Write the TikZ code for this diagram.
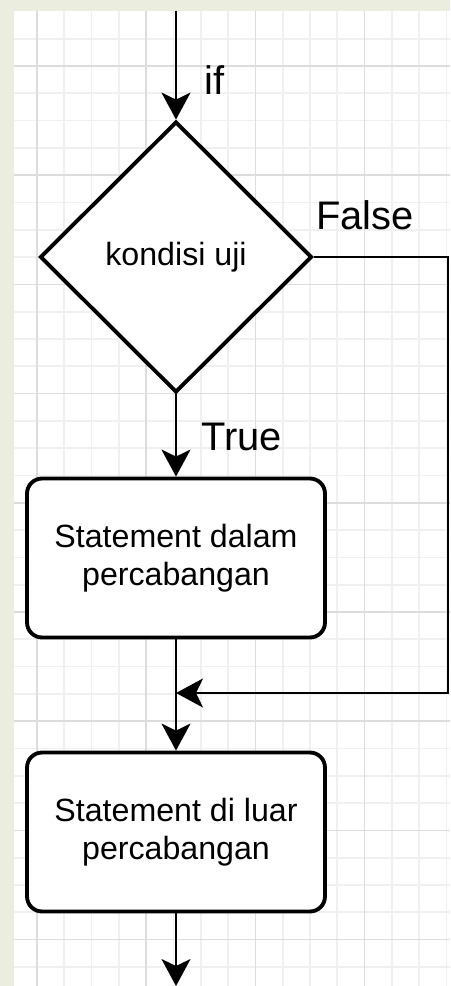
\documentclass[tikz,border=0pt]{standalone}
\usepackage{fontspec}
\setmainfont{Liberation Sans}
\usetikzlibrary{shapes.geometric}
\usetikzlibrary{arrows.meta}

\definecolor{paperbg}{RGB}{235,238,222}
\definecolor{gridminor}{RGB}{240,240,240}
\definecolor{gridmajor}{RGB}{221,221,221}

\begin{document}
\begin{tikzpicture}[x=0.02cm, y=-0.02cm,
  decision/.style={diamond, draw, line width=2.2pt, fill=white, inner sep=0pt,
    minimum width=5.44cm, minimum height=5.42cm, font=\fontsize{18.3}{21.5}\selectfont},
  block/.style={rectangle, draw, line width=2.2pt, rounded corners=0.3cm, fill=white,
    minimum width=5.96cm, minimum height=3.18cm, align=center,
    font=\fontsize{18.3}{21.5}\selectfont},
  flow/.style={line width=1.3pt, -{Stealth[length=0.54cm,width=0.58cm,inset=0.14cm]}},
  flowlabel/.style={anchor=base west, inner sep=0pt, font=\fontsize{22.7}{27}\selectfont}]
  \useasboundingbox (0,0) rectangle (450,986);
  \fill[paperbg] (0,0) rectangle (450,986);
  \fill[white] (14,11) rectangle (450,986);
  % grid
  \foreach \i in {0,...,15}
    \draw[gridminor, line width=1pt] ({37+27.3*\i},11) -- ({37+27.3*\i},986);
  \foreach \j in {-1,...,33}
    \draw[gridminor, line width=1pt] (14,{66+27.3*\j}) -- (450,{66+27.3*\j});
  \foreach \i in {0,...,3}
    \draw[gridmajor, line width=1pt] ({37+109.2*\i},11) -- ({37+109.2*\i},986);
  \foreach \j in {0,...,8}
    \draw[gridmajor, line width=1pt] (14,{66+109.2*\j}) -- (450,{66+109.2*\j});

  % nodes
  \coordinate (start) at (176,11);
  \node[decision] (uji) at (176,257) {kondisi uji};
  \node[block] (dalam) at (176,558) {Statement dalam\\percabangan};
  \node[block] (luar) at (176,832) {Statement di luar\\percabangan};
  \coordinate (turn) at (448,693);
  \coordinate (merge) at (176,693);
  \coordinate (finish) at (176,986);

  % connectors
  \draw[flow] (start) -- (uji.north);
  \draw[flow] (uji.south) -- (dalam.north);
  \draw[flow] (dalam.south) -- (luar.north);
  \draw[flow] (uji.east) -| (turn) -- (merge);
  \draw[flow] (luar.south) -- (finish);

  % labels
  \node[flowlabel] (iflbl) at (204,95) {if};
  \node[flowlabel] (falselbl) at (316,230) {False};
  \node[flowlabel] (truelbl) at (201,450) {True};
\end{tikzpicture}
\end{document}
